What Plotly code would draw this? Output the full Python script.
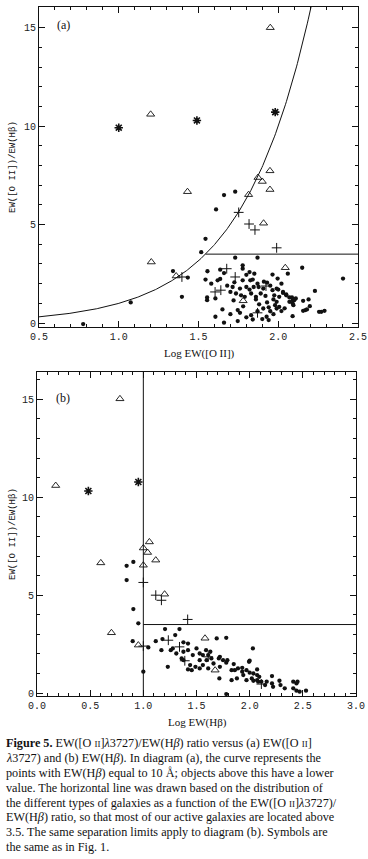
import numpy as np
import plotly.graph_objects as go

# ---------------- Data ----------------
# Panel (a): x = Log EW([O II]), y = EW([O II])/EW(Hb)
a_dot_x = [1.66, 1.73, 1.61, 1.544, 1.517, 1.34, 1.433, 1.396, 1.075, 0.777, 2.406, 2.15,
           1.73, 1.87, 1.556, 1.636, 1.66, 1.777, 1.777, 1.82, 1.85, 1.544, 1.62, 1.636, 1.725,
           1.777, 1.825, 1.84, 1.964, 1.996, 1.714, 1.76, 1.80, 1.82, 1.846, 1.877, 1.906, 1.964,
           1.99, 2.03, 2.05, 2.09, 1.554, 1.554, 1.606, 1.70, 1.735, 1.767, 1.79, 1.83, 1.86, 1.89,
           1.92, 1.975, 2.006, 1.99, 1.98, 2.006, 2.07, 2.11, 2.095, 1.65, 1.606, 1.70, 1.746, 1.76,
           1.80, 1.83, 1.906, 1.927, 1.99, 2.09, 1.66, 1.746, 1.94, 2.17, 2.06, 2.02, 2.03, 2.05,
           2.07, 2.086, 2.10, 2.09, 2.02, 2.156, 2.156, 2.19, 2.198, 2.18, 2.23, 2.256, 2.27, 2.29,
           1.87, 1.93, 1.95, 1.86, 1.88, 1.95, 1.97, 1.90, 1.84, 1.78, 1.72, 1.68, 1.80, 1.93, 1.94,
           2.00, 1.91, 1.97, 2.04, 1.87, 1.58]
a_dot_y = [6.5, 6.67, 5.77, 4.28, 3.6, 2.64, 2.31, 1.33, 1.05, -0.05, 2.26, 2.81,
           3.32, 3.32, 2.63, 2.71, 2.54, 2.93, 2.76, 2.59, 2.51, 2.21, 2.17, 2.24, 2.07,
           2.17, 2.17, 2.21, 2.46, 2.26, 1.83, 1.75, 1.83, 1.70, 1.83, 1.83, 1.75, 1.67,
           1.75, 1.53, 1.41, 1.16, 1.30, 1.16, 1.25, 1.58, 1.50, 1.41, 1.33, 1.50, 1.33, 1.50,
           1.38, 1.41, 1.33, 1.08, 0.91, 0.82, 1.08, 1.25, 0.91, 0.69, 0.32, 0.45, 0.66, 0.52,
           0.29, 0.40, 0.74, 0.32, 0.74, 0.35, 0.02, 0.10, 0.15, 0.66, 2.51, 2.00, 1.58, 1.46,
           1.30, 1.30, 1.16, 1.00, 0.61, 1.13, 0.62, 1.20, 0.86, 0.69, 1.63, 0.57, 0.57, 0.62,
           2.00, 2.05, 1.90, 1.20, 0.95, 0.60, 0.45, 0.20, 0.18, 0.85, 1.15, 1.90, 2.45, 1.05, 0.80,
           1.70, 2.10, 1.20, 0.75, 0.60, 2.00]
a_tri_x = [1.95, 1.20, 1.948, 1.873, 1.90, 1.948, 1.431, 1.814, 1.908, 1.204, 1.36, 2.044, 1.78]
a_tri_y = [15.0, 10.6, 7.73, 7.39, 7.19, 6.78, 6.67, 6.52, 5.07, 3.10, 2.39, 2.81, 1.13]
a_plus_x = [1.752, 1.817, 1.854, 1.99, 1.396, 1.677, 1.73, 1.604, 1.64, 1.923, 1.87]
a_plus_y = [5.62, 5.03, 4.73, 3.82, 2.34, 2.76, 2.34, 1.58, 1.67, 1.88, 0.52]
a_star_x = [1.0, 1.49, 1.981]
a_star_y = [9.92, 10.29, 10.71]

# Panel (b): x = Log EW(Hb)
b_dot_x = [0.843, 0.906, 0.843, 0.906, 0.953, 0.90, 1.047, 1.0, 1.117, 1.18, 1.17, 1.204, 1.34,
           1.30, 1.258, 1.277, 1.377, 1.42, 1.377, 1.42, 1.23, 1.377, 1.44, 1.455, 1.42, 1.53,
           1.56, 1.61, 1.64, 1.595, 1.53, 1.69, 1.72, 1.75, 1.61, 1.715, 1.78, 1.78, 2.03, 1.994,
           1.79, 1.85, 1.83, 1.86, 1.89, 1.93, 1.93, 1.97, 2.0, 2.035, 2.07, 2.07, 2.09, 2.21,
           1.83, 1.88, 1.94, 1.97, 2.02, 2.035, 2.07, 2.08, 2.11, 2.16, 2.145, 2.21, 2.22, 2.28,
           2.29, 2.33, 2.41, 2.44, 2.41, 2.44, 2.47, 2.53, 1.31, 1.36, 1.465, 1.49, 1.50, 1.59,
           1.63, 1.66, 1.71, 1.72, 1.53, 1.56, 1.78, 2.0, 2.45]
b_dot_y = [6.5, 6.7, 5.77, 4.29, 3.56, 2.65, 2.33, 1.09, 2.65, 2.76, 2.19, 3.27, 3.27,
           2.96, 2.19, 2.28, 2.59, 2.53, 2.11, 2.19, 1.34, 1.68, 1.43, 1.17, 1.21, 2.02,
           1.94, 1.94, 1.77, 1.68, 1.68, 2.79, 1.85, 1.68, 1.26, 0.75, 1.55, -0.05, 2.28, 1.60,
           1.68, 1.48, 1.17, 1.17, 1.26, 1.29, 1.09, 1.17, 1.04, 1.00, 1.21, 0.92, 0.83, 0.87,
           0.66, 0.75, 0.92, 0.66, 0.75, 0.63, 0.66, 0.58, 0.58, 0.58, 0.41, 0.49, 0.32, 0.63,
           0.41, 0.24, 0.58, 0.49, 0.24, 0.12, 0.07, 0.12, 2.02, 1.77, 1.94, 1.34, 2.28, 2.19,
           2.11, 1.51, 1.77, 1.34, 1.26, 1.43, 2.82, 1.65, 0.58]
b_tri_x = [0.78, 0.176, 1.057, 1.0, 1.04, 1.117, 0.60, 1.0, 1.20, 0.70, 0.953, 1.58, 1.675]
b_tri_y = [15.03, 10.6, 7.72, 7.41, 7.18, 6.79, 6.65, 6.53, 5.05, 3.08, 2.45, 2.80, 1.17]
b_plus_x = [1.0, 1.117, 1.17, 1.417, 1.0, 1.235, 1.34, 1.39, 1.61, 2.11]
b_plus_y = [5.65, 5.0, 4.74, 3.76, 2.4, 2.70, 2.36, 1.65, 1.85, 0.46]
b_star_x = [0.483, 0.953]
b_star_y = [10.32, 10.78]

# Separation limits (from the caption)
EW_HB_LIMIT = 10.0      # curve in (a): EW(Hb) = 10 A
RATIO_LIMIT = 3.5       # horizontal line
LOG_HB_LIMIT = 1.0      # vertical line in (b)

a_xrange = [0.5, 2.5]
a_yrange = [-0.2, 16.05]
b_xrange = [0.0, 3.0]
b_yrange = [-0.15, 16.4]

a_xticks = [0.5, 1.0, 1.5, 2.0, 2.5]
b_xticks = [0.0, 0.5, 1.0, 1.5, 2.0, 2.5, 3.0]
y_ticks = [0, 5, 10, 15]

# ---------------- Figure ----------------
W, H = 368, 859
fig = go.Figure()

BLACK = "#111111"

def add_points(xs, ys, xa, ya, kind):
    if kind == "dot":
        m = dict(symbol="circle", size=4.3, color=BLACK)
    elif kind == "tri":
        m = dict(symbol="triangle-up-open", size=7, color=BLACK, line=dict(width=0.9, color=BLACK))
    elif kind == "plus":
        m = dict(symbol="cross-thin-open", size=7, color=BLACK, line=dict(width=1, color=BLACK))
    else:
        m = dict(symbol="asterisk-open", size=7, color=BLACK, line=dict(width=1.6, color=BLACK))
    fig.add_trace(go.Scatter(x=xs, y=ys, mode="markers", marker=m, xaxis=xa, yaxis=ya,
                             showlegend=False, hoverinfo="skip", cliponaxis=False))

# Panel (a) curve: ratio = 10**x / EW_HB_LIMIT
curve_x = np.linspace(a_xrange[0], np.log10(a_yrange[1] * EW_HB_LIMIT), 300)
curve_y = 10 ** curve_x / EW_HB_LIMIT
fig.add_trace(go.Scatter(x=curve_x, y=curve_y, mode="lines", line=dict(color=BLACK, width=1),
                         xaxis="x", yaxis="y", showlegend=False, hoverinfo="skip"))
hx0 = np.log10(RATIO_LIMIT * EW_HB_LIMIT)
fig.add_trace(go.Scatter(x=[hx0, a_xrange[1]], y=[RATIO_LIMIT, RATIO_LIMIT], mode="lines",
                         line=dict(color=BLACK, width=1), xaxis="x", yaxis="y",
                         showlegend=False, hoverinfo="skip"))

add_points(a_dot_x, a_dot_y, "x", "y", "dot")
add_points(a_tri_x, a_tri_y, "x", "y", "tri")
add_points(a_plus_x, a_plus_y, "x", "y", "plus")
add_points(a_star_x, a_star_y, "x", "y", "star")

# Panel (b) lines
fig.add_trace(go.Scatter(x=[LOG_HB_LIMIT, LOG_HB_LIMIT], y=[b_yrange[0], b_yrange[1]], mode="lines",
                         line=dict(color=BLACK, width=1), xaxis="x2", yaxis="y2",
                         showlegend=False, hoverinfo="skip"))
fig.add_trace(go.Scatter(x=[LOG_HB_LIMIT, b_xrange[1]], y=[RATIO_LIMIT, RATIO_LIMIT], mode="lines",
                         line=dict(color=BLACK, width=1), xaxis="x2", yaxis="y2",
                         showlegend=False, hoverinfo="skip"))

add_points(b_dot_x, b_dot_y, "x2", "y2", "dot")
add_points(b_tri_x, b_tri_y, "x2", "y2", "tri")
add_points(b_plus_x, b_plus_y, "x2", "y2", "plus")
add_points(b_star_x, b_star_y, "x2", "y2", "star")

tickfont = dict(family="Liberation Mono", size=10, color="#222222")

def xaxis(domain, rng, ticks, anchor):
    return dict(domain=domain, range=rng, anchor=anchor, tickvals=ticks,
                ticktext=[f"{t:.1f}" for t in ticks], ticks="inside", ticklen=6,
                tickwidth=1, tickcolor=BLACK, showline=True, linecolor=BLACK, linewidth=1,
                mirror="allticks", showgrid=False, zeroline=False, tickfont=tickfont,
                automargin=False, ticklabelstandoff=0,
                minor=dict(dtick=0.1, tick0=0, ticks="inside", ticklen=3, tickcolor=BLACK,
                           showgrid=False),
                fixedrange=True)

def yaxis(domain, rng, anchor):
    return dict(domain=domain, range=rng, anchor=anchor, tickvals=y_ticks,
                ticks="inside", ticklen=6, tickwidth=1, tickcolor=BLACK, showline=True,
                linecolor=BLACK, linewidth=1, mirror="allticks", showgrid=False,
                zeroline=False, tickfont=tickfont, automargin=False,
                minor=dict(dtick=1, tick0=0, ticks="inside", ticklen=3, tickcolor=BLACK,
                           showgrid=False),
                fixedrange=True)

def py(p):
    return 1 - p / H

def px(p):
    return p / W

fig.update_layout(
    template="none",
    width=W, height=H, margin=dict(l=0, r=0, t=0, b=0, pad=0, autoexpand=False),
    paper_bgcolor="white", plot_bgcolor="white", showlegend=False,
    xaxis=xaxis([px(39), px(358)], a_xrange, a_xticks, "y"),
    yaxis=yaxis([py(327), py(7)], a_yrange, "x"),
    xaxis2=xaxis([px(37), px(356)], b_xrange, b_xticks, "y2"),
    yaxis2=yaxis([py(696), py(372)], b_yrange, "x2"),
)

ann = []
serif = "Liberation Serif"
small = '<span style="font-size:9px">II</span>'

def label(xp, yp, text, font, **kw):
    d = dict(x=px(xp), y=py(yp), xref="paper", yref="paper", text=text, showarrow=False,
             xanchor="center", yanchor="middle", font=font)
    d.update(kw)
    ann.append(d)

# panel labels
label(63, 25, "(a)", dict(family=serif, size=12, color=BLACK))
label(63, 398, "(b)", dict(family=serif, size=12, color=BLACK))
# axis titles
label(199, 353, "Log EW([O II])", dict(family=serif, size=11, color=BLACK))
label(198, 722, "Log EW(Hβ)", dict(family=serif, size=11, color=BLACK))
for yc in (167, 534):
    label(13, yc, "EW([O II])/EW(Hβ)", dict(family="Liberation Mono", size=9, color=BLACK),
          textangle=-90)

caption = [
    "<b>Figure 5.</b> EW([O " + small + "]<i>λ</i>3727)/EW(H<i>β</i>) ratio versus (a) EW([O " + small + "]",
    "<i>λ</i>3727) and (b) EW(H<i>β</i>). In diagram (a), the curve represents the",
    "points with EW(H<i>β</i>) equal to 10 Å; objects above this have a lower",
    "value. The horizontal line was drawn based on the distribution of",
    "the different types of galaxies as a function of the EW([O " + small + "]<i>λ</i>3727)/",
    "EW(H<i>β</i>) ratio, so that most of our active galaxies are located above",
    "3.5. The same separation limits apply to diagram (b). Symbols are",
    "the same as in Fig. 1.",
]
cap_y = [743, 758, 773, 788, 803, 817, 832, 847]
for line, yc in zip(caption, cap_y):
    label(4, yc, line, dict(family=serif, size=12.2, color=BLACK), xanchor="left", align="left")

fig.update_layout(annotations=ann)
fig.write_html(
    "out.html",
    config={"displayModeBar": False, "staticPlot": True},
    post_script="document.body.style.margin='0px';document.body.style.overflow='hidden';",
)
